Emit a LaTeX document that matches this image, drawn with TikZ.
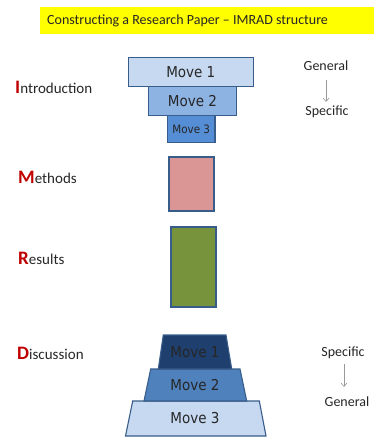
\documentclass[tikz,border=0pt]{standalone}
\usepackage{fontspec}
\setmainfont{Carlito}
\newfontfamily\movefont{DejaVu Sans Condensed}
\usetikzlibrary{arrows.meta}
\definecolor{banner}{HTML}{FFFF00}
\definecolor{edge}{HTML}{385D8A}
\definecolor{lightblue}{HTML}{C6D9F1}
\definecolor{midblue}{HTML}{8DB3E2}
\definecolor{blueA}{HTML}{558ED5}
\definecolor{blueB}{HTML}{4F81BD}
\definecolor{navy}{HTML}{1F3F6E}
\definecolor{pinkbox}{HTML}{D99694}
\definecolor{olivebox}{HTML}{77933C}
\definecolor{redletter}{HTML}{C00000}
\definecolor{txt}{HTML}{262626}
\tikzset{
  x=1pt, y=-1pt,
  movebox/.style={draw=edge, line width=1.1pt, inner sep=0pt, font=\movefont\fontsize{15}{17}\selectfont, text=txt},
  trap/.style={draw=edge, line width=1.1pt},
  movetext/.style={font=\movefont\fontsize{15}{17}\selectfont, text=txt, inner sep=0pt},
  label/.style={anchor=base west, inner sep=0pt, font=\fontsize{15}{17}\selectfont, text=txt},
  side/.style={inner sep=0pt, font=\fontsize{14}{16}\selectfont, text=txt},
  thinarrow/.style={draw=gray!80, line width=0.6pt, -{Straight Barb[length=3.5pt,width=6pt]}}
}
\newcommand{\bigred}[1]{{\fontsize{19}{21}\selectfont\bfseries\color{redletter}#1}}
\begin{document}
\begin{tikzpicture}
\useasboundingbox (0,0) rectangle (374,438);
% title banner
\fill[banner] (40,7) rectangle (374,34);
\node[anchor=west, inner sep=0pt, font=\fontsize{14}{16}\selectfont, text=txt] (title) at (47,20.5) {Constructing a Research Paper -- IMRAD structure};

% Introduction funnel
\node[movebox, fill=lightblue, minimum width=125pt, minimum height=29pt] (i1) at (190.8,72.2) {Move 1};
\node[movebox, fill=midblue, minimum width=88pt, minimum height=29pt] (i2) at (192.5,101.2) {Move 2};
\node[movebox, fill=blueA, minimum width=47.5pt, minimum height=27pt, font=\movefont\fontsize{11.5}{13}\selectfont] (i3) at (191.2,129) {Move 3};

% Methods / Results boxes
\node[draw=edge, line width=1.1pt, fill=pinkbox, minimum width=45pt, minimum height=54pt, inner sep=0pt] (mbox) at (191.5,184) {};
\node[draw=edge, line width=1.1pt, fill=olivebox, minimum width=45pt, minimum height=80pt, inner sep=0pt] (rbox) at (193.5,267) {};

% Discussion pyramid
\path[trap, fill=lightblue] (132.7,401) -- (259.3,401) -- (266,436) -- (125.5,436) -- cycle;
\path[trap, fill=blueB] (150.7,369) -- (240,369) -- (246.7,401) -- (144,401) -- cycle;
\path[trap, fill=navy] (163.3,335) -- (226,335) -- (231.7,369) -- (158.3,369) -- cycle;
\node[movetext] (d1) at (195,352) {Move 1};
\node[movetext] (d2) at (195,385) {Move 2};
\node[movetext] (d3) at (195,418.5) {Move 3};

% Section labels
\node[label] (intro) at (15,94) {\bigred{I}ntroduction};
\node[label] (meth) at (18,183) {\bigred{M}ethods};
\node[label] (res) at (18,264) {\bigred{R}esults};
\node[label] (disc) at (17,359) {\bigred{D}iscussion};

% General -> Specific
\node[side] (g1) at (326,66) {General};
\node[side] (s1) at (327,112) {Specific};
\coordinate (ga) at (326,80);
\coordinate (gb) at (326,102);
\draw[thinarrow] (ga) -- (gb);

% Specific -> General
\node[side] (s2) at (343,353) {Specific};
\node[side] (g2) at (347,402) {General};
\coordinate (sa) at (344,364);
\coordinate (sb) at (344,387);
\draw[thinarrow] (sa) -- (sb);
\end{tikzpicture}
\end{document}
